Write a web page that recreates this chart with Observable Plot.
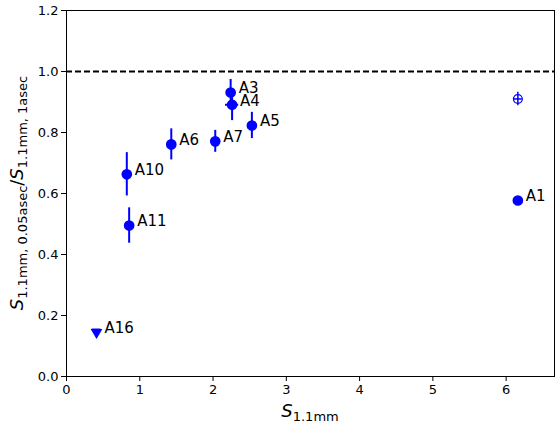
<!DOCTYPE html>
<html><head><meta charset="utf-8">
<script src="https://cdn.jsdelivr.net/npm/d3@7"></script>
<script src="https://cdn.jsdelivr.net/npm/@observablehq/plot@0.6"></script>
<style>body{margin:0;background:#fff}svg{font-family:"DejaVu Sans",sans-serif}</style>
</head><body><div id="chart"></div>
<script>
const names = ["A1","A3","A4","A5","A6","A7","A10","A11","A16"];
const xs    = [6.16, 2.24, 2.26, 2.53, 1.43, 2.03, 0.823, 0.855, 0.41];
const ys    = [0.577, 0.931, 0.891, 0.823, 0.761, 0.771, 0.663, 0.495, 0.145];
const yerr  = [0.008, 0.043, 0.052, 0.043, 0.051, 0.036, 0.071, 0.058, 0];
const xerr  = [0, 0, 0.09, 0, 0, 0, 0, 0, 0.06];
const markers = ["circle","circle","circle","circle","circle","circle","circle","circle","triangle"];
// open (unlabelled) point
const openX = [6.16], openY = [0.910], openYerr = [0.022], openXerr = [0.06];
const refLine = [1.0];
const xTicks = [0,1,2,3,4,5,6];
const yTicks = [0,0.2,0.4,0.6,0.8,1.0,1.2];

const pts = names.map((n,i)=>({name:n,x:xs[i],y:ys[i],ye:yerr[i],xe:xerr[i],m:markers[i]}));
const opens = openX.map((x,i)=>({x,y:openY[i],ye:openYerr[i],xe:openXerr[i]}));
const blue = "#0000ff";
const circ = pts.filter(d=>d.m==="circle");
const tri = pts.filter(d=>d.m==="triangle");

const chart = Plot.plot({
  width:555, height:425,
  marginLeft:66, marginRight:1, marginTop:10, marginBottom:49,
  style:{fontFamily:"DejaVu Sans, sans-serif", fontSize:"13px", color:"#000", background:"#fff"},
  x:{domain:[0,6.66], ticks:xTicks, tickFormat:d=>d3.format("d")(d), label:null, tickSize:5, tickPadding:3},
  y:{domain:[0,1.2], ticks:yTicks, tickFormat:d=>d.toFixed(1), label:null, tickSize:5, tickPadding:3},
  marks:[
    Plot.frame({stroke:"#000", strokeWidth:1}),
    Plot.ruleY(refLine, {stroke:"#000", strokeWidth:2, strokeDasharray:"6,3"}),
    Plot.ruleX(circ.filter(d=>d.ye>0), {x:"x", y1:d=>d.y-d.ye, y2:d=>d.y+d.ye, stroke:blue, strokeWidth:2}),
    Plot.ruleY(circ.filter(d=>d.xe>0), {y:"y", x1:d=>d.x-d.xe, x2:d=>d.x+d.xe, stroke:blue, strokeWidth:2}),
    Plot.ruleX(opens, {x:"x", y1:d=>d.y-d.ye, y2:d=>d.y+d.ye, stroke:blue, strokeWidth:1.5}),
    Plot.ruleY(opens, {y:"y", x1:d=>d.x-d.xe, x2:d=>d.x+d.xe, stroke:blue, strokeWidth:1.5}),
    Plot.dot(circ, {x:"x", y:"y", r:4.6, fill:blue, stroke:blue, symbol:"circle"}),
    Plot.dot(tri, {x:"x", y:"y", r:3.4, fill:blue, stroke:blue, symbol:"triangle", rotate:180}),
    Plot.ruleY(tri, {y:"y", x1:d=>d.x-d.xe, x2:d=>d.x+d.xe, dy:-3, stroke:blue, strokeWidth:1.5}),
    Plot.dot(opens, {x:"x", y:"y", r:4.4, fill:"none", stroke:blue, strokeWidth:1.3}),
    Plot.text(pts, {x:"x", y:"y", text:"name", dx:8, dy:-4, textAnchor:"start", fontSize:15, fill:"#000"})
  ]
});
document.getElementById("chart").appendChild(chart);

const svg = d3.select(chart);
// x label
const xl = svg.append("text").attr("x",310).attr("y",417).attr("text-anchor","middle").attr("fill","#000")
  .style("font-family","DejaVu Sans, sans-serif");
xl.append("tspan").attr("font-style","italic").attr("font-size",18).text("S");
xl.append("tspan").attr("font-size",13).attr("dy",4).text("1.1mm");
// y label
const yl = svg.append("text").attr("transform","translate(23,193) rotate(-90)").attr("text-anchor","middle").attr("fill","#000")
  .style("font-family","DejaVu Sans, sans-serif");
yl.append("tspan").attr("font-style","italic").attr("font-size",18).text("S");
yl.append("tspan").attr("font-size",13).attr("dy",4).text("1.1mm, 0.05asec");
yl.append("tspan").attr("font-size",18).attr("dy",-4).text("/");
yl.append("tspan").attr("font-style","italic").attr("font-size",18).text("S");
yl.append("tspan").attr("font-size",13).attr("dy",4).text("1.1mm, 1asec");
</script></body></html>
